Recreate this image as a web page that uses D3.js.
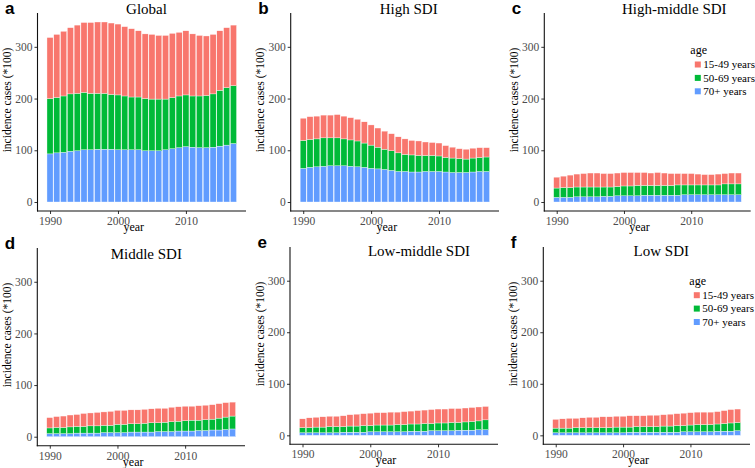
<!DOCTYPE html>
<html><head><meta charset="utf-8">
<script src="https://cdn.jsdelivr.net/npm/d3@7"></script>
<style>
html,body{margin:0;padding:0;background:#fff;}
svg{display:block;}
</style>
</head><body>
<svg id="chart" width="755" height="468"></svg>
<script>
// ---- data ----
const years = d3.range(1990, 2018);
const ageGroups = ["15-49 years", "50-69 years", "70+ years"];
const ageColors = ["#F8766D", "#00BA38", "#619CFF"];
const yTicks = [0, 100, 200, 300];
const xTicks = [1990, 2000, 2010];
const regionNames = ["Global", "High SDI", "High-middle SDI", "Middle SDI", "Low-middle SDI", "Low SDI"];
const panelLetters = ["a", "b", "c", "d", "e", "f"];

// values in (*100) incidence cases, per age group
const global_70plus = [93,95,96,98,99,101,101,102,102,102,101,101,101,101,99,99,99,101,103,105,107,106,105,105,106,108,110,113];
const global_50_69  = [107,107,109,111,111,111,109,108,108,106,106,104,102,102,101,100,100,98,99,100,100,99,100,101,103,108,111,112];
const global_15_49  = [118,122,125,128,132,135,137,138,138,138,137,134,132,128,125,125,123,123,124,123,124,120,117,115,115,115,116,117];

const high_70plus = [65,67,68,69,70,70,70,69,68,67,65,64,63,61,59,59,58,58,59,59,59,58,57,57,57,58,59,59];
const high_50_69  = [54,54,54,55,54,54,52,51,50,47,45,42,39,38,36,33,33,32,31,31,30,28,28,27,26,27,27,28];
const high_15_49  = [43,44,44,44,44,45,44,43,42,41,39,37,35,33,31,30,28,28,26,25,25,23,21,19,19,19,19,18];

const highmid_70plus = [9,9,9,10,10,10,10,11,11,12,12,12,12,13,13,13,13,13,13,14,14,14,14,14,14,14,14,14];
const highmid_50_69  = [18,19,19,19,19,19,19,18,18,18,19,19,20,19,19,19,19,19,20,19,19,19,19,19,19,21,21,21];
const highmid_15_49  = [21,22,24,25,26,27,27,26,26,26,26,26,25,25,24,25,24,23,22,22,22,21,20,20,21,20,21,21];

const mid_70plus = [6,6,6,6,7,7,7,7,8,8,8,8,9,9,9,9,10,10,10,11,11,11,12,12,13,13,14,15];
const mid_50_69  = [11,12,12,13,13,13,14,14,14,14,16,16,16,16,17,18,17,18,19,19,20,21,20,21,21,23,24,25];
const mid_15_49  = [20,21,22,23,23,25,25,26,26,27,27,27,27,27,27,27,28,27,28,28,28,27,28,28,28,28,28,27];

const lowmid_70plus = [5,5,5,5,5,5,6,6,6,6,7,7,7,7,7,7,8,8,8,9,9,9,9,10,10,10,11,11];
const lowmid_50_69  = [10,10,11,11,12,12,11,12,12,13,12,13,13,13,14,14,14,14,15,14,15,15,16,15,16,17,17,19];
const lowmid_15_49  = [17,19,19,20,20,20,21,22,23,23,24,24,24,25,24,25,25,26,26,27,27,27,27,27,27,27,27,26];

const low_70plus = [5,5,5,5,5,5,5,5,5,5,5,6,6,6,6,6,6,6,6,7,7,7,7,7,8,8,8,9];
const low_50_69  = [9,9,9,10,10,10,10,10,10,11,11,10,11,11,11,11,12,12,13,12,13,14,14,14,14,15,16,16];
const low_15_49  = [17,18,19,18,19,20,20,21,21,21,21,22,21,21,22,22,22,23,23,24,24,24,24,24,24,25,26,26];

const regionSeries = [
  [global_15_49, global_50_69, global_70plus],
  [high_15_49, high_50_69, high_70plus],
  [highmid_15_49, highmid_50_69, highmid_70plus],
  [mid_15_49, mid_50_69, mid_70plus],
  [lowmid_15_49, lowmid_50_69, lowmid_70plus],
  [low_15_49, low_50_69, low_70plus]
];

// ---- layout ----
const panels = [
  {x0: 37.5, x1: 246,   yT: 13,  yB: 211,   titleDx: 109, titleY: 13.5, legend: false},
  {x0: 290.7, x1: 499,  yT: 13,  yB: 211,   titleDx: 118, titleY: 13.5, legend: false},
  {x0: 544.3, x1: 750.7,yT: 13,  yB: 211,   titleDx: 130, titleY: 13.5, legend: true, legY: 50},
  {x0: 37.3, x1: 245,   yT: 248, yB: 445.7, titleDx: 109, titleY: 258.5, legend: false},
  {x0: 290,  x1: 498,   yT: 247, yB: 444.3, titleDx: 129, titleY: 255.7, legend: false},
  {x0: 543.3,x1: 750,   yT: 247, yB: 444.3, titleDx: 118, titleY: 255.7, legend: true, legY: 280.7}
];

const svg = d3.select("#chart");
const serif = "'Liberation Serif', 'Times New Roman', serif";
const tickGray = "#4D4D4D";

const yMax = d3.max(regionSeries, s => d3.max(years, (y, i) => s[0][i] + s[1][i] + s[2][i]));
const yExp = yMax * 0.05;
const xExp = (27 + 0.9) * 0.05;

panels.forEach((p, pi) => {
  const g = svg.append("g");
  const x = d3.scaleLinear().domain([1990 - 0.45 - xExp, 2017 + 0.45 + xExp]).range([p.x0, p.x1]);
  const y = d3.scaleLinear().domain([-yExp, yMax + yExp]).range([p.yB, p.yT]);

  const rows = years.map((yr, i) => {
    const o = {year: yr};
    ageGroups.forEach((k, j) => o[k] = regionSeries[pi][j][i]);
    return o;
  });
  // bottom: 70+, then 50-69, then 15-49
  const stackKeys = ageGroups.slice().reverse();
  const stacked = d3.stack().keys(stackKeys)(rows);
  const color = d3.scaleOrdinal().domain(ageGroups).range(ageColors);

  g.selectAll("g.layer").data(stacked).join("g")
    .attr("fill", d => color(d.key))
    .selectAll("rect").data(d => d).join("rect")
    .attr("x", d => x(d.data.year - 0.45))
    .attr("width", d => x(d.data.year + 0.45) - x(d.data.year - 0.45))
    .attr("y", d => y(d[1]))
    .attr("height", d => y(d[0]) - y(d[1]))
    .attr("stroke", "#fff")
    .attr("stroke-width", 0.35);

  // axes
  const yAxis = d3.axisLeft(y).tickValues(yTicks).tickSize(3).tickPadding(2);
  const ya = g.append("g").attr("transform", `translate(${p.x0},0)`).call(yAxis);
  const xAxis = d3.axisBottom(x).tickValues(xTicks).tickSize(3).tickPadding(3).tickFormat(d3.format("d"));
  const xa = g.append("g").attr("transform", `translate(0,${p.yB})`).call(xAxis);
  [ya, xa].forEach(a => {
    a.select(".domain").attr("d", null);
    a.selectAll(".tick line").attr("stroke", "#333").attr("stroke-width", 1);
    a.selectAll(".tick text").attr("fill", tickGray).style("font-family", serif).style("font-size", "11.5px");
  });
  // axis lines (classic)
  g.append("line").attr("x1", p.x0).attr("x2", p.x0).attr("y1", p.yT).attr("y2", p.yB + 0.5)
    .attr("stroke", "#111").attr("stroke-width", 1.1);
  g.append("line").attr("x1", p.x0 - 0.5).attr("x2", p.x1).attr("y1", p.yB).attr("y2", p.yB)
    .attr("stroke", "#111").attr("stroke-width", 1.1);

  // axis titles
  g.append("text").attr("x", (p.x0 + p.x1) / 2 - 8).attr("y", p.yB + 20)
    .attr("text-anchor", "middle").style("font-family", serif).style("font-size", "12px")
    .attr("fill", "#000").text("year");
  const ly = p.yT + 87;
  g.append("text").attr("transform", `translate(${p.x0 - 26.5},${ly}) rotate(-90)`)
    .attr("text-anchor", "middle").style("font-family", serif).style("font-size", "11.5px")
    .attr("fill", "#000").text("incidence cases (*100)");

  // title
  g.append("text").attr("x", p.x0 + p.titleDx).attr("y", p.titleY)
    .attr("text-anchor", "middle").style("font-family", serif).style("font-size", "15px")
    .attr("fill", "#000").text(regionNames[pi]);

  // panel letter
  g.append("text").attr("x", p.x0 - 32.5).attr("y", p.yT + 0.5)
    .style("font-family", "'Liberation Sans', Arial, sans-serif").style("font-weight", "bold")
    .style("font-size", "17px").attr("fill", "#000").text(panelLetters[pi]);

  // legend
  if (p.legend) {
    const lg = g.append("g").attr("transform", `translate(${p.x0 + 146},${p.legY})`);
    lg.append("text").attr("x", 0).attr("y", 4).style("font-family", serif).style("font-size", "12px")
      .attr("fill", "#000").text("age");
    ageGroups.forEach((k, j) => {
      const cy = 14.5 + j * 13.4;
      lg.append("rect").attr("x", 4.5).attr("y", cy - 3).attr("width", 6).attr("height", 6).attr("fill", ageColors[j]);
      lg.append("text").attr("x", 13).attr("y", cy + 3.8).style("font-family", serif).style("font-size", "11px")
        .attr("fill", "#000").text(k);
    });
  }
});
</script>
</body></html>
